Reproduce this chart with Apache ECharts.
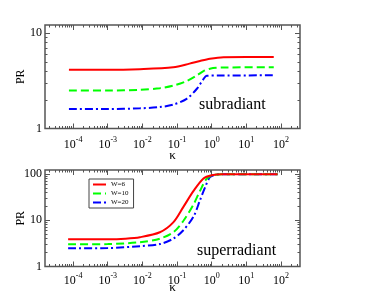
<!DOCTYPE html>
<html>
<head>
<meta charset="utf-8">
<script src="https://cdn.jsdelivr.net/npm/echarts@6/dist/echarts.min.js"></script>
<style>html,body{margin:0;padding:0;background:#fff}#c{width:385px;height:298px}</style>
</head>
<body>
<div id="c"></div>
<script>
// ---------- data ----------
const seriesNames = ['W=6', 'W=10', 'W=20'];
const seriesColors = ['#ff0000', '#00ff00', '#0000ff'];

// subradiant (top panel)
const subKappaW6  = [7.6e-5, 1e-3, 8.5e-3, 7.8e-2, 0.23, 0.46, 0.89, 2.2, 10, 62];
const subPRW6     = [4.15, 4.13, 4.2, 4.4, 4.8, 5.12, 5.4, 5.6, 5.62, 5.62];
const subKappaW10 = [7.6e-5, 1e-3, 8.5e-3, 3.2e-2, 7.8e-2, 0.19, 0.37, 0.58, 0.89, 2.2, 62];
const subPRW10    = [2.5, 2.5, 2.55, 2.65, 2.82, 3.15, 3.6, 4.0, 4.25, 4.37, 4.4];
const subKappaW20 = [7.6e-5, 1e-3, 8.5e-3, 3.2e-2, 7.8e-2, 0.19, 0.37, 0.58, 0.72, 1.6, 62];
const subPRW20    = [1.6, 1.6, 1.63, 1.68, 1.78, 2.05, 2.6, 3.3, 3.58, 3.6, 3.62];

// superradiant (bottom panel)
const supKappaW6  = [7.2e-5, 1e-3, 3.2e-3, 8.5e-3, 3.2e-2, 7.8e-2, 0.15, 0.3, 0.58, 1, 2, 80];
const supPRW6     = [3.86, 3.88, 4.0, 4.3, 5.5, 9, 19, 43, 80, 94, 99, 99];
const supKappaW10 = [7.2e-5, 1e-3, 8.5e-3, 3.2e-2, 7.8e-2, 0.15, 0.3, 0.46, 0.71, 1.05, 2, 80];
const supPRW10    = [3.02, 3.05, 3.35, 4.0, 5.5, 9.5, 22, 43, 78, 94, 99, 99];
const supKappaW20 = [7.2e-5, 1e-3, 8.5e-3, 3.2e-2, 7.8e-2, 0.15, 0.3, 0.46, 0.65, 0.89, 1.26, 2, 80];
const supPRW20    = [2.47, 2.5, 2.75, 3.05, 4.0, 6.0, 12, 27, 52, 85, 96, 99, 99];

// tick labels
const xTickExponents = [-4, -3, -2, -1, 0, 1, 2];
const subYTicks = [1, 10];
const supYTicks = [1, 10, 100];

const panelLabels = ['subradiant', 'superradiant'];
const xName = 'κ';
const yName = 'PR';

// ---------- chart ----------
const FONT = '"Liberation Serif", "DejaVu Serif", "Times New Roman", serif';
const AX = '#555';
const X_MIN = -4.81, X_MAX = 2.55;
const lg = Math.log10;

function minorList(lo, hi) {
  const out = [];
  for (let e = Math.floor(lo) - 1; e <= Math.ceil(hi); e++) {
    for (let m = 2; m <= 9; m++) {
      const v = e + lg(m);
      if (v > lo && v < hi) out.push(v);
    }
  }
  return out;
}

const panels = [
  { top: 25, height: 103.5, yMax: 1.087, yTicks: subYTicks, labelMargin: 7, nameGap: 21,
    data: [[subKappaW6, subPRW6], [subKappaW10, subPRW10], [subKappaW20, subPRW20]] },
  { top: 170, height: 96.5, yMax: 2.086, yTicks: supYTicks, labelMargin: 5, nameGap: 15,
    data: [[supKappaW6, supPRW6], [supKappaW10, supPRW10], [supKappaW20, supPRW20]] }
];

const grids = [], xAxes = [], yAxes = [], series = [];
const lineTypes = ['solid', [8, 4], [8, 3, 2, 3]];

panels.forEach((p, gi) => {
  grids.push({ left: 45, width: 255, top: p.top, height: p.height, show: true,
    borderColor: AX, borderWidth: 1.5, backgroundColor: 'transparent', containLabel: false });
  const xMinor = minorList(X_MIN, X_MAX);
  const yMajor = p.yTicks.map(lg);
  const yMinor = minorList(0, p.yMax);
  const xBase = xAxes.length, yBase = yAxes.length;
  [['bottom', true, true], ['bottom', false, false], ['top', true, false], ['top', false, false]].forEach(([pos, major, lab]) => {
    xAxes.push({
      type: 'value', gridIndex: gi, position: pos, min: X_MIN, max: X_MAX,
      axisLine: { show: false, onZero: false }, splitLine: { show: false },
      axisTick: { show: true, inside: true, length: major ? 5 : 2.5,
        lineStyle: { color: AX, width: 1 }, customValues: major ? xTickExponents : xMinor },
      axisLabel: lab ? {
        show: true, customValues: xTickExponents, margin: p.labelMargin,
        formatter: v => '{b|10}{s|' + v + '}',
        rich: {
          b: { fontFamily: FONT, fontSize: 12, color: '#000', lineHeight: 15, verticalAlign: 'bottom' },
          s: { fontFamily: FONT, fontSize: 8, color: '#000', lineHeight: 15, verticalAlign: 'top' }
        }
      } : { show: false },
      name: lab ? xName : '', nameLocation: 'middle', nameGap: p.nameGap, nameMoveOverlap: false,
      nameTextStyle: { fontFamily: FONT, fontSize: 13, color: '#000' }
    });
  });
  [['left', true, true], ['left', false, false], ['right', true, false], ['right', false, false]].forEach(([pos, major, lab]) => {
    yAxes.push({
      type: 'value', gridIndex: gi, position: pos, min: 0, max: p.yMax,
      axisLine: { show: false, onZero: false }, splitLine: { show: false },
      axisTick: { show: true, inside: true, length: major ? 5 : 2.5,
        lineStyle: { color: AX, width: 1 }, customValues: major ? yMajor : yMinor },
      axisLabel: lab ? {
        show: true, customValues: yMajor, margin: 3,
        formatter: v => String(Math.round(Math.pow(10, v))),
        fontFamily: FONT, fontSize: 12, color: '#000'
      } : { show: false },
      name: lab ? yName : '', nameLocation: 'middle', nameGap: 18, nameRotate: 90, nameMoveOverlap: false,
      nameTextStyle: { fontFamily: FONT, fontSize: 12, color: '#000' }
    });
  });
  p.data.forEach(([ks, prs], si) => {
    series.push({
      type: 'line', name: seriesNames[si], xAxisIndex: xBase, yAxisIndex: yBase,
      data: ks.map((k, i) => [lg(k), lg(prs[i])]),
      symbol: 'none', smooth: 0.3, z: 3 - si,
      lineStyle: { color: seriesColors[si], width: 2, type: lineTypes[si] },
      itemStyle: { color: seriesColors[si] }
    });
  });
});

const chart = echarts.init(document.getElementById('c'), null, { renderer: 'canvas' });
chart.setOption({
  animation: false,
  backgroundColor: '#fff',
  grid: grids, xAxis: xAxes, yAxis: yAxes, series: series,
  legend: {
    data: seriesNames, orient: 'vertical', left: 89, top: 179,
    padding: [2, 5, 2, 3], itemWidth: 13, itemHeight: 6, itemGap: 2,
    borderColor: '#444', borderWidth: 1, backgroundColor: '#fff',
    itemStyle: { opacity: 0 },
    textStyle: { fontFamily: FONT, fontSize: 7, color: '#000', lineHeight: 6 },
    selectedMode: false
  },
  graphic: [
    { type: 'text', left: 199, top: 97, style: { text: panelLabels[0], font: '16px ' + FONT, fill: '#000' } },
    { type: 'text', left: 197, top: 243, style: { text: panelLabels[1], font: '16px ' + FONT, fill: '#000' } }
  ]
});
</script>
</body>
</html>
